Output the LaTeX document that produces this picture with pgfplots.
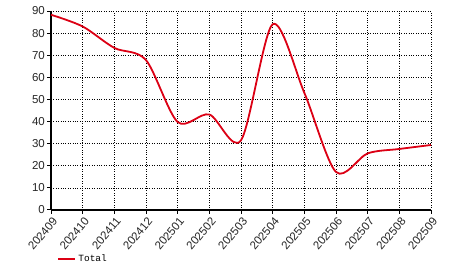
\documentclass[border=0pt]{standalone}
\usepackage{fontspec}
\setmainfont{Liberation Sans}
\newfontfamily\monofont{Liberation Mono}
\usepackage{pgfplots}
\pgfplotsset{compat=1.18}
\definecolor{linered}{RGB}{220,0,20}
\begin{document}
\begin{tikzpicture}[x=1pt,y=1pt]
\useasboundingbox (0,0) rectangle (466,272);
\begin{axis}[
  at={(51pt,62pt)}, anchor=south west,
  scale only axis, width=380pt, height=199pt,
  xmin=0, xmax=12, ymin=0, ymax=90,
  xtick={0,...,12},
  xticklabels={202409,202410,202411,202412,202501,202502,202503,202504,202505,202506,202507,202508,202509},
  ytick={0,10,...,90},
  axis x line*=bottom, axis y line*=left,
  axis line style={line width=1.2pt, -},
  tick align=outside, major tick length=4pt,
  tick style={black, line width=1pt},
  grid=major,
  major grid style={black, dotted, line width=0.7pt},
  tick label style={font=\fontsize{11.5}{13}\selectfont, text=black!85},
  /pgf/number format/assume math mode=true,
  x tick label style={rotate=50, anchor=north east, inner sep=1pt, yshift=-1pt},
  y tick label style={inner sep=2pt},
  clip=false,
  legend style={at={(0.016,-0.246)}, anchor=west, draw=none, fill=none,
    font=\monofont\fontsize{9.5}{11}\selectfont, inner sep=0pt},
  legend cell align=left,
  legend image post style={line width=2pt},
]
\addplot[linered, line width=1.8pt, smooth, tension=0.5] coordinates {
(0,88.3) (1,83) (2,73.3) (3,67.8) (4,39.8) (5,43.2) (6,31.5) (7,84) (8,53) (9,17.2) (10,25.6) (11,27.6) (12,29.4)
};
\addlegendentry{Total}
\end{axis}
\end{tikzpicture}
\end{document}
